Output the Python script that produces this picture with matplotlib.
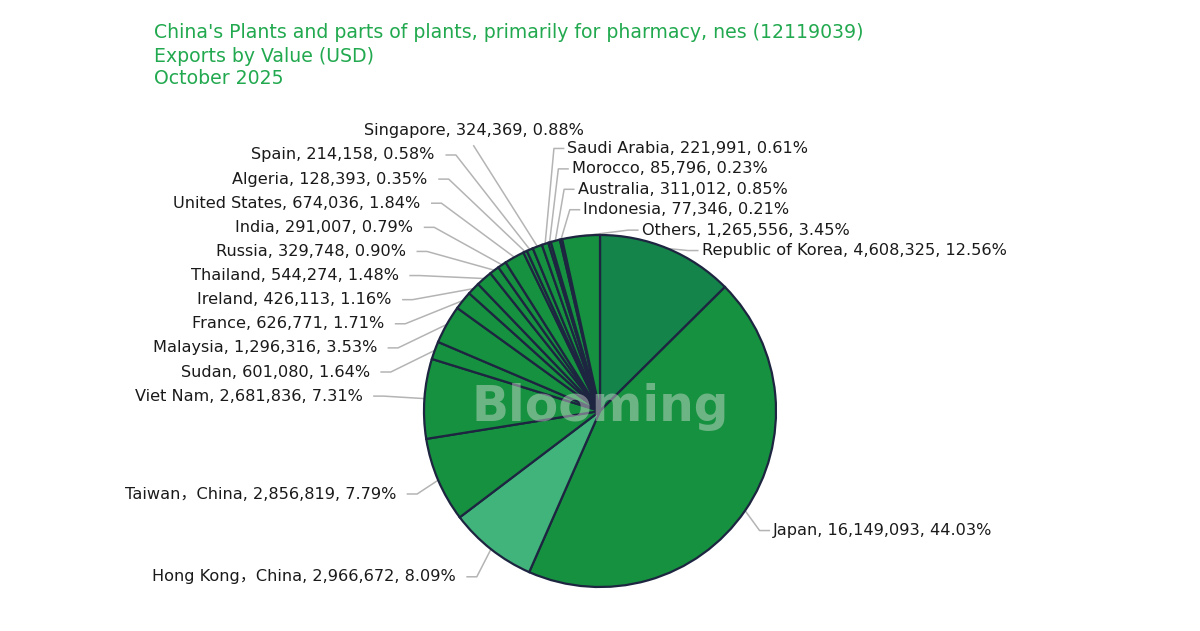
import numpy as np
import matplotlib.pyplot as plt

# Exportwerte Oktober 2025 (USD), im Uhrzeigersinn ab 12 Uhr
countries = [
    "Republic of Korea", "Japan", "Hong Kong，China", "Taiwan，China", "Viet Nam",
    "Sudan", "Malaysia", "France", "Ireland", "Thailand", "Russia", "India",
    "United States", "Algeria", "Spain", "Singapore", "Saudi Arabia", "Morocco",
    "Australia", "Indonesia", "Others",
]
values = [
    4608325, 16149093, 2966672, 2856819, 2681836,
    601080, 1296316, 626771, 426113, 544274, 329748, 291007,
    674036, 128393, 214158, 324369, 221991, 85796,
    311012, 77346, 1265556,
]
shares = [
    12.56, 44.03, 8.09, 7.79, 7.31,
    1.64, 3.53, 1.71, 1.16, 1.48, 0.90, 0.79,
    1.84, 0.35, 0.58, 0.88, 0.61, 0.23,
    0.85, 0.21, 3.45,
]
title_lines = [
    "China's Plants and parts of plants, primarily for pharmacy, nes (12119039)",
    "Exports by Value (USD)",
    "October 2025",
]

# Farben
main_green = "#16913f"
slice_colors = [main_green] * len(values)
slice_colors[0] = "#14844a"
slice_colors[2] = "#41b47b"
edge_color = "#1d2540"
line_color = "#b4b4b4"
text_color = "#1a1a1a"
title_color = "#22a94f"

W, H = 1200, 631
cx_px, cy_px, r_px = 600, 411, 176

fig = plt.figure(figsize=(W / 100, H / 100), dpi=100)
ax = fig.add_axes([0, 0, 1, 1])

ax.pie(
    values,
    colors=slice_colors,
    startangle=90,
    counterclock=False,
    radius=1,
    center=(0, 0),
    wedgeprops=dict(edgecolor=edge_color, linewidth=1.6, zorder=3),
)
ax.set_aspect("auto")
ax.set_xlim(-cx_px / r_px, (W - cx_px) / r_px)
ax.set_ylim(-(H - cy_px) / r_px, cy_px / r_px)
ax.axis("off")

# Label-Layout: Mittelwinkel, Seite, vertikales Entzerren
vals = np.array(values, dtype=float)
cum = np.concatenate([[0], np.cumsum(vals)[:-1]]) / vals.sum()
mid = 90 - 360 * (cum + vals / vals.sum() / 2)
mid = np.mod(mid + 90, 360) - 90  # Bereich -90..270
split = 20
right = np.cos(np.radians(mid - split)) >= 0
sin_mid = np.sin(np.radians(mid))

len2 = 0.055
gap_left, gap_right = 0.065, 0.022


def spread(order, ys, step):
    # Cluster zusammenlegen, bis sich nichts mehr überlappt
    clusters = [[i] for i in order]
    pos = {i: ys[i] for i in order}
    changed = True
    while changed:
        changed = False
        for k in range(len(clusters) - 1):
            lo, hi = clusters[k], clusters[k + 1]
            if pos[hi[0]] - pos[lo[-1]] < step - 1e-9:
                merged = lo + hi
                centre = np.mean([ys[i] for i in merged])
                base = centre - (len(merged) - 1) * step / 2
                for n, i in enumerate(merged):
                    pos[i] = base + n * step
                clusters[k:k + 2] = [merged]
                changed = True
                break
    return pos


idx = np.arange(len(values))
right_order = sorted(idx[right], key=lambda i: mid[i])
left_order = sorted(idx[~right], key=lambda i: -np.mod(mid[i], 360))
label_y = {}
label_y.update(spread(right_order, np.where(sin_mid > 0, 1.25, 1.2) * sin_mid, 0.116))
label_y.update(spread(left_order, np.where(sin_mid > 0, 1.22, 1.2) * sin_mid, 0.137))
top_left = left_order[-1]

for i in idx:
    th = np.radians(mid[i])
    x0, y0 = np.cos(th), np.sin(th)
    y = label_y[i]
    txt = f"{countries[i]}, {values[i]:,}, {shares[i]:.2f}%"
    style = dict(va="center", fontsize=11.6, color=text_color,
                 family=["DejaVu Sans", "Noto Sans CJK SC"], zorder=5)
    if i == top_left:
        # oberstes Label sitzt zentriert über seiner Linie
        xe = -(1.31 - 0.30 * y) + len2 + 0.06
        ax.plot([x0, xe], [y0, y - 0.085], color=line_color, lw=1.1, zorder=1)
        ax.text(xe, y, txt, ha="center", **style)
        continue
    if right[i]:
        d, gap = 1, gap_right
        xe = max(1.1 * x0, x0 + 0.05)
        if abs(y) < 1.04:
            xe = max(xe, np.sqrt(1.04 ** 2 - y * y))
    else:
        d, gap = -1, gap_left
        if y > 0:
            xe = -(1.31 - 0.30 * y) + len2
        else:
            xe = 1.13 * x0
    ax.plot([x0, xe, xe + d * len2], [y0, y, y], color=line_color, lw=1.1,
            zorder=1, solid_joinstyle="round")
    ax.text(xe + d * (len2 + gap), y, txt, ha="left" if d > 0 else "right", **style)

# Wasserzeichen
ax.text(0, 0.02, "Blooming", ha="center", va="center", fontsize=35,
        fontweight="bold", color="#e6e6e6", alpha=0.42, zorder=6)

# Titel
for k, line in enumerate(title_lines):
    fig.text(154 / W, 1 - (33 + 23 * k) / H, line, ha="left", va="center",
             fontsize=13.6, color=title_color)

fig.savefig("out.png", dpi=100)
